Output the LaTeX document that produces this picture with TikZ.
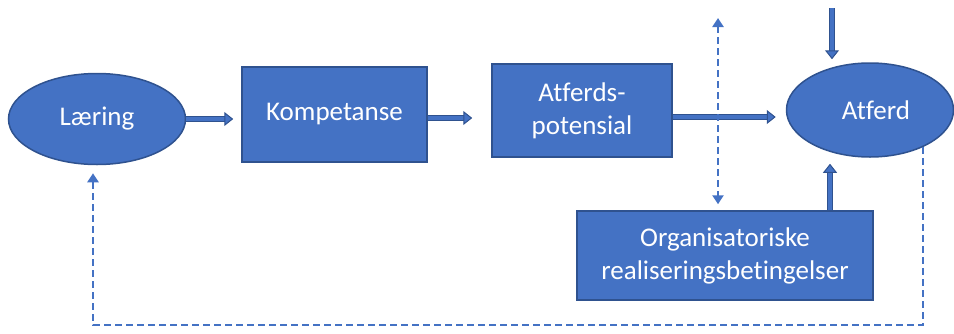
\documentclass[tikz,border=0pt]{standalone}
\usepackage{fontspec}
\setmainfont{Carlito}[Ligatures=NoCommon]
\usetikzlibrary{arrows.meta,shapes.geometric}
\definecolor{fyll}{HTML}{4472C4}
\definecolor{kant}{HTML}{2F528F}
\tikzset{
  blokk/.style={draw=kant, fill=fyll, line width=1.5pt, inner sep=0pt,
    text=white, align=center, font=\fontsize{27}{33}\selectfont},
  boks/.style={blokk, rectangle},
  oval/.style={blokk, ellipse},
  blokkpil/.style={draw=kant, line width=1.3pt, double=fyll, double distance=3.4pt,
    -{Triangle[length=9pt,width=14pt,fill=fyll,color=kant,line width=1pt]}},
  stiplet/.style={draw=fyll, line width=2.8pt, dash pattern=on 7pt off 4pt},
  spiss/.tip={Triangle[length=9pt,width=11pt]}
}
\begin{document}
\begin{tikzpicture}[x=1pt,y=-1pt]
  %%%%% START %%%%%
  \useasboundingbox (0,0) rectangle (954,333);

  \node[oval, minimum width=177pt, minimum height=91pt] (laering) at (97,119) {Læring};
  \node[boks, minimum width=185pt, minimum height=95pt] (komp) at (334.5,114.5) {Kompetanse};
  \node[boks, minimum width=180pt, minimum height=93pt] (pot) at (582,110.5) {Atferds-\\potensial};
  \node[oval, minimum width=167pt, minimum height=94pt] (atferd) at (870,110) {\hspace*{12pt}Atferd};
  \node[boks, minimum width=296pt, minimum height=89pt] (org) at (725,255.5) {Organisatoriske\\realiseringsbetingelser};

  \coordinate (inn) at (832,8);
  \coordinate (topp) at (718,18);

  % block arrows
  \draw[blokkpil, shorten >=8pt] (laering.east) -- (laering.east -| komp.west);
  \draw[blokkpil, shorten >=19pt] ([yshift=-3.5pt]komp.east) -- ([yshift=-3.5pt]komp.east -| pot.west);
  \draw[blokkpil, shorten >=10pt] ([yshift=-6.5pt]pot.east) -- ([yshift=-6.5pt]pot.east -| atferd.west);
  \draw[blokkpil, shorten >=3pt] (inn) -- (inn |- atferd.north);
  \draw[blokkpil, shorten >=6pt] ([xshift=105pt]org.north) -- ([xshift=105pt]org.north |- atferd.south);

  % dashed
  \draw[stiplet, spiss-spiss, shorten >=6pt] (topp) -- (topp |- org.north);
  \draw[stiplet, -spiss, shorten >=8pt] (atferd.-35) |- ([xshift=-4pt]laering.south |- 0,325) -- ([xshift=-4pt]laering.south);

  %%%%% END %%%%%
\end{tikzpicture}
\end{document}
